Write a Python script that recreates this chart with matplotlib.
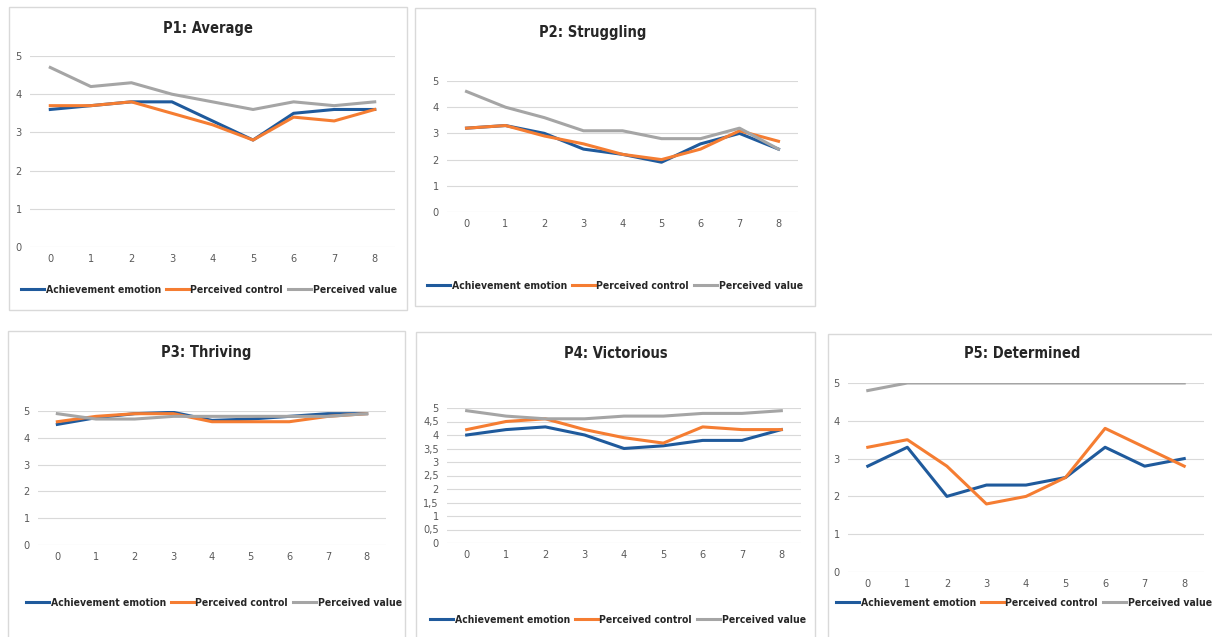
import matplotlib.pyplot as plt
from matplotlib import font_manager
from matplotlib.patches import Rectangle

# pick a narrow font similar to Calibri if one is there
available = {f.name for f in font_manager.fontManager.ttflist}
if 'Liberation Sans Narrow' in available:
    plt.rcParams['font.family'] = ['Liberation Sans Narrow', 'DejaVu Sans']
elif 'DejaVu Sans Condensed' in available:
    plt.rcParams['font.family'] = ['DejaVu Sans Condensed', 'DejaVu Sans']
else:
    plt.rcParams['font.family'] = ['DejaVu Sans']
    plt.rcParams['font.stretch'] = 'condensed'

# Data
weeks = [0, 1, 2, 3, 4, 5, 6, 7, 8]
series_names = ['Achievement emotion', 'Perceived control', 'Perceived value']
titles = ['P1: Average', 'P2: Struggling', 'P3: Thriving', 'P4: Victorious', 'P5: Determined']

p1_emotion = [3.6, 3.7, 3.8, 3.8, 3.3, 2.8, 3.5, 3.6, 3.6]
p1_control = [3.7, 3.7, 3.8, 3.5, 3.2, 2.8, 3.4, 3.3, 3.6]
p1_value = [4.7, 4.2, 4.3, 4.0, 3.8, 3.6, 3.8, 3.7, 3.8]

p2_emotion = [3.2, 3.3, 3.0, 2.4, 2.2, 1.9, 2.6, 3.0, 2.4]
p2_control = [3.2, 3.3, 2.9, 2.6, 2.2, 2.0, 2.4, 3.1, 2.7]
p2_value = [4.6, 4.0, 3.6, 3.1, 3.1, 2.8, 2.8, 3.2, 2.4]

p3_emotion = [4.5, 4.75, 4.9, 4.95, 4.65, 4.7, 4.8, 4.9, 4.9]
p3_control = [4.6, 4.8, 4.9, 4.9, 4.6, 4.6, 4.6, 4.8, 4.9]
p3_value = [4.9, 4.7, 4.7, 4.8, 4.8, 4.8, 4.8, 4.8, 4.9]

p4_emotion = [4.0, 4.2, 4.3, 4.0, 3.5, 3.6, 3.8, 3.8, 4.2]
p4_control = [4.2, 4.5, 4.6, 4.2, 3.9, 3.7, 4.3, 4.2, 4.2]
p4_value = [4.9, 4.7, 4.6, 4.6, 4.7, 4.7, 4.8, 4.8, 4.9]

p5_emotion = [2.8, 3.3, 2.0, 2.3, 2.3, 2.5, 3.3, 2.8, 3.0]
p5_control = [3.3, 3.5, 2.8, 1.8, 2.0, 2.5, 3.8, 3.3, 2.8]
p5_value = [4.8, 5.0, 5.0, 5.0, 5.0, 5.0, 5.0, 5.0, 5.0]

panels = [
    (p1_emotion, p1_control, p1_value),
    (p2_emotion, p2_control, p2_value),
    (p3_emotion, p3_control, p3_value),
    (p4_emotion, p4_control, p4_value),
    (p5_emotion, p5_control, p5_value),
]

colors = ['#1f5a9c', '#f57d32', '#a5a5a5']

# layout in pixels: box (x0, y0, x1, y1), plot area (x0, y_top, x1, y_bottom),
# title centre (x, y), legend centre (x, y)
W, H = 1212, 637
layout = [
    dict(box=(9, 7, 407, 310), area=(30, 56, 395, 247), title=(208, 28), legend=(209, 290)),
    dict(box=(415, 8, 815, 306), area=(447, 81, 798, 212), title=(593, 33), legend=(615, 286)),
    dict(box=(8, 331, 405, 640), area=(38, 411, 386, 545), title=(206, 353), legend=(214, 603)),
    dict(box=(416, 332, 815, 640), area=(447, 408, 801, 543), title=(616, 354), legend=(618, 620)),
    dict(box=(828, 334, 1215, 640), area=(848, 383, 1204, 572), title=(1022, 354), legend=(1024, 603)),
]

fig = plt.figure(figsize=(W / 100, H / 100), dpi=100)

for i, (data, lay) in enumerate(zip(panels, layout)):
    bx0, by0, bx1, by1 = lay['box']
    fig.patches.append(Rectangle((bx0 / W, 1 - by1 / H), (bx1 - bx0) / W, (by1 - by0) / H,
                                 transform=fig.transFigure, fill=False,
                                 edgecolor='#d9d9d9', linewidth=1))
    ax0, ay0, ax1, ay1 = lay['area']
    ax = fig.add_axes([ax0 / W, 1 - ay1 / H, (ax1 - ax0) / W, (ay1 - ay0) / H])
    lines = []
    for vals, c, name in zip(data, colors, series_names):
        ln, = ax.plot(weeks, vals, color=c, linewidth=2.2, label=name)
        lines.append(ln)
    ax.set_xlim(-0.5, 8.5)
    ax.set_ylim(0, 5)
    if i == 3:
        yt = [0, 0.5, 1, 1.5, 2, 2.5, 3, 3.5, 4, 4.5, 5]
        ax.set_yticks(yt)
        ax.set_yticklabels([('%g' % v).replace('.', ',') for v in yt])
    else:
        ax.set_yticks([0, 1, 2, 3, 4, 5])
    ax.set_xticks(weeks)
    ax.grid(axis='y', color='#d9d9d9', linewidth=0.8)
    ax.set_axisbelow(True)
    for s in ax.spines.values():
        s.set_visible(False)
    ax.tick_params(length=0, labelsize=7.8, labelcolor='#595959')
    ax.tick_params(axis='x', pad=5)
    ax.tick_params(axis='y', pad=6)
    tx, ty = lay['title']
    fig.text(tx / W, 1 - ty / H, titles[i], ha='center', va='center',
             fontsize=10.5, fontweight='bold', color='#262626')
    lx, ly = lay['legend']
    fig.legend(handles=lines, loc='center', bbox_to_anchor=(lx / W, 1 - ly / H),
               ncol=3, frameon=False, handlelength=2.2,
               columnspacing=0.5, handletextpad=0.15,
               prop=dict(size=7.5, weight='bold'), labelcolor='#262626')

fig.savefig('out.png', dpi=100)
